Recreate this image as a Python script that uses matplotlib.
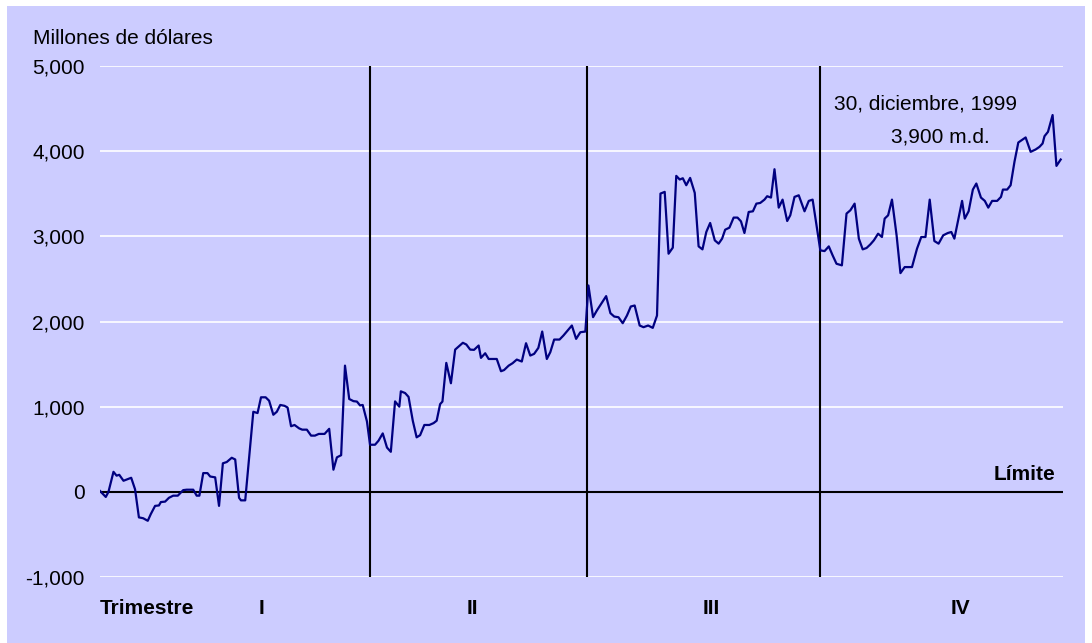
import matplotlib.pyplot as plt
from matplotlib.patches import Rectangle
from matplotlib.ticker import FuncFormatter

plt.rcParams['font.family'] = ['Liberation Sans', 'DejaVu Sans']

# dia habil (aprox.) y saldo en millones de dolares
dias = [0.0, 1.5, 2.2, 3.5, 4.3, 5.0, 6.1, 8.1, 9.1, 10.1, 11.2, 12.4, 13.2, 14.3,
        15.3, 15.8, 16.9, 17.9, 19.0, 20.2, 21.6, 22.5, 24.2, 25.1, 25.8, 26.8,
        27.9, 28.6, 29.9, 30.9, 31.9, 32.9, 34.2, 35.1, 36.1, 36.6, 37.7, 39.8,
        40.9, 41.8, 43.0, 43.9, 45.0, 45.9, 46.8, 47.9, 48.7, 49.6, 50.5, 51.7,
        52.5, 53.7, 54.8, 55.8, 56.8, 58.3, 59.5, 60.6, 61.5, 62.6, 63.6,
        64.7, 65.8, 66.7, 67.5, 68.2, 69.3, 70.1, 71.4, 72.3, 73.4, 74.5, 75.5,
        76.6, 77.7, 78.1, 79.2, 80.1, 81.2, 82.2, 83.1, 84.2, 85.5, 86.6, 87.4,
        88.3, 88.9, 89.9, 91.1, 92.2, 93.1, 94.2, 95.1, 96.1, 97.1, 98.3, 98.9,
        100.0, 100.9, 102.0, 103.0, 104.1, 104.9, 106.1, 107.1, 108.2, 109.5,
        110.6, 111.7, 112.7, 113.8, 114.8, 116.0, 116.9, 117.9, 119.3, 120.3,
        121.4, 122.5, 123.6, 124.7, 126.0, 126.8,
        128.0, 129.0, 130.0, 131.4, 132.5, 133.5, 134.6, 135.7, 136.8, 137.8,
        138.8, 140.1, 141.1, 142.3, 143.5, 144.6, 145.5, 146.6, 147.6, 148.7,
        149.6, 150.5, 151.3, 152.2, 153.2, 154.4, 155.4, 156.4, 157.4, 158.4,
        159.6, 160.6, 161.5, 162.3, 163.4, 164.5, 165.5, 166.4, 167.3, 168.4,
        169.5, 170.4, 171.4, 172.5, 173.2, 174.2, 175.1, 176.2, 177.2, 178.4,
        179.2, 180.3, 181.4, 182.9, 184.0, 185.0, 187.0, 188.1, 189.2,
        190.2, 191.2, 192.6, 193.8, 194.8, 195.9, 197.0, 198.0, 199.0, 200.0,
        200.9, 202.0, 203.0, 203.7, 204.6, 205.6, 206.8, 207.8, 208.9, 210.8,
        212.1, 213.2, 214.3, 215.4, 216.6, 217.7, 218.9, 220.1, 221.0, 221.8,
        223.8, 224.5, 225.5, 226.6, 227.5, 228.7, 229.7, 230.6, 231.6, 232.9,
        233.9, 234.4, 235.5, 236.4, 237.4, 238.4, 240.3, 241.6, 242.9, 243.9,
        244.7, 245.2, 246.1, 247.3, 248.3, 249.4]
saldo = [10, -60, 0, 235, 190, 200, 130, 165, 30, -300, -310, -340, -260, -165,
         -160, -120, -115, -70, -45, -45, 20, 25, 25, -45, -45, 220,
         220, 180, 170, -165, 335, 350, 400, 380, -70, -100, -100, 940,
         925, 1110, 1110, 1070, 905, 940, 1020, 1010, 990, 770, 785, 745,
         730, 730, 660, 660, 680, 680, 740, 260, 405, 430, 1482,
         1090, 1065, 1060, 1015, 1020, 827, 553, 553, 600, 686, 520, 470,
         1062, 1000, 1180, 1160, 1115, 835, 640, 665, 785, 785, 807, 835,
         1030, 1060, 1514, 1275, 1670, 1706, 1750, 1730, 1670, 1667, 1718, 1573,
         1627, 1560, 1560, 1560, 1416, 1430, 1482, 1510, 1553, 1530,
         1745, 1600, 1620, 1690, 1882, 1560, 1640, 1788, 1788, 1835,
         1894, 1953, 1796, 1874, 1882, 2423,
         2051, 2130, 2200, 2298, 2098, 2058, 2050, 1980, 2070, 2176,
         2188, 1953, 1933, 1953, 1925, 2070, 3502, 3522, 2796, 2867,
         3710, 3667, 3682, 3600, 3686, 3510, 2882, 2847, 3051, 3157,
         2953, 2914, 2973, 3078, 3102, 3220, 3220, 3176, 3039, 3286,
         3294, 3384, 3392, 3431, 3471, 3455, 3788, 3337, 3431, 3180,
         3247, 3463, 3482, 3294, 3416, 3431, 2835, 2827, 2882,
         2776, 2678, 2659, 3267, 3306, 3384, 2973, 2847, 2863, 2906,
         2953, 3031, 2992, 3208, 3247, 3431, 3012, 2568, 2639, 2639,
         2855, 2992, 2992, 3431, 2945, 2914, 3012, 3039, 3051, 2973,
         3416, 3208, 3294, 3549, 3620, 3455, 3416, 3337, 3416, 3416,
         3463, 3549, 3549, 3600, 3875, 4102, 4161, 3992, 4020, 4051,
         4090, 4176, 4227, 4424, 3827, 3902]

cortes_trimestre = [70.1, 126.5, 187.0]
trimestres = ['I', 'II', 'III', 'IV']
pos_trimestres = [42, 96.6, 158.7, 223.4]
yticks = [-1000, 0, 1000, 2000, 3000, 4000, 5000]

fondo = '#CCCCFF'
fs = 15

fig = plt.figure(figsize=(10.92, 6.43), dpi=100, facecolor='white')
fig.patches.append(Rectangle((7 / 1092, 0), 1 - 14 / 1092, 1 - 6 / 643,
                             transform=fig.transFigure, facecolor=fondo,
                             edgecolor='none', zorder=-10))

ax = fig.add_axes([100 / 1092, 1 - 577 / 643, 963 / 1092, 511 / 643])
ax.set_facecolor(fondo)
ax.set_xlim(0, 250)
ax.set_ylim(-1000, 5000)
ax.set_yticks(yticks)
ax.yaxis.set_major_formatter(FuncFormatter(lambda v, p: f'{int(v):,}'))
ax.set_xticks([])
ax.tick_params(axis='y', length=0, pad=11, labelsize=fs)
ax.grid(axis='y', color='white', linewidth=1.2)
ax.set_axisbelow(True)
for s in ax.spines.values():
    s.set_visible(False)

ax.axhline(0, color='black', linewidth=1.5, zorder=3)
for c in cortes_trimestre:
    ax.axvline(c, color='black', linewidth=1.5, zorder=3)

ax.plot(dias, saldo, color='#000080', linewidth=1.6, zorder=4)

ax.text(248, 90, 'Límite', ha='right', va='bottom', fontsize=fs, fontweight='bold')
ax.text(214.2, 4553, '30, diciembre, 1999', ha='center', va='center', fontsize=fs)
ax.text(218.1, 4165, '3,900 m.d.', ha='center', va='center', fontsize=fs)

for t, p in zip(trimestres, pos_trimestres):
    ax.text(p, -1365, t, ha='center', va='center', fontsize=fs, fontweight='bold')
ax.text(0, -1365, 'Trimestre', ha='left', va='center', fontsize=fs, fontweight='bold')

fig.text(33 / 1092, 1 - 38 / 643, 'Millones de dólares', ha='left', va='center', fontsize=fs)

fig.savefig('out.png', dpi=100, facecolor='white')
